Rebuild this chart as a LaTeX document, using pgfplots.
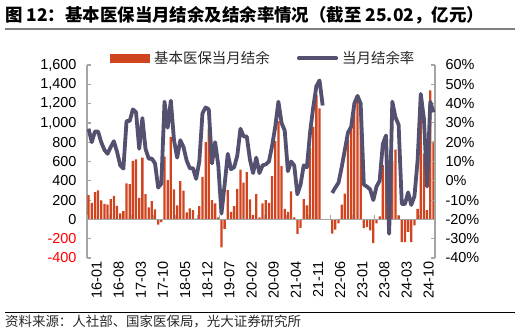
\documentclass[border=0pt]{standalone}
\usepackage{pgfplots}
\pgfplotsset{compat=1.18}
\usepackage{pgfplotstable}
\usepackage{fontspec}
\setmainfont{Liberation Sans}
\newfontfamily\cjk{Noto Sans CJK SC}
\definecolor{barred}{RGB}{208,68,32}
\definecolor{lineblue}{RGB}{83,80,112}
\definecolor{axgray}{RGB}{165,165,165}
\definecolor{txt}{RGB}{40,40,40}

\pgfplotstableread{
idx bal rate
0 252 27
1 172 20
2 283 25.5
3 300 25.5
4 197 20
5 162 16
6 152 14
7 210 17.5
8 245 20.5
9 141 15
10 62 8
11 86 6.3
12 373 31
13 366 31
14 607 37
15 621 35.5
16 224 16.6
17 641 32.5
18 262 16.5
19 124 11.5
20 190 11.5
21 103 9
22 -55 -3.5
23 -28 -1.5
24 650 41
25 407 27.5
26 856 41.5
27 310 21
28 145 12
29 397 21
30 297 17.5
31 72 10.5
32 114 6.5
33 97 6.5
34 7 1
35 138 10
36 440 35
37 800 38
38 940 37
39 200 9
40 166 20
41 20 8
42 -290 -17
43 -97 -2
44 304 14
45 79 6
46 138 7
47 317 13
48 517 27
49 380 23
50 490 23
51 207 11
52 48 4
53 262 12
54 20 4
55 166 8
56 200 8.5
57 172 10
58 448 18
59 810 28
60 1018 41
61 552 30
62 110 26
63 79 5
64 290 10
65 20 8
66 -150 -7
67 -88 -2
68 210 8
69 145 7
70 742 25
71 960 38
72 1290 49
73 1150 52
74 nan 39
75 nan nan
76 nan nan
77 -148 -6.3
78 -105 -3.5
79 -42 -1
80 152 7
81 266 16
82 826 25
83 984 28
84 1199 40
85 1226 44
86 1137 40
87 -90 -2
88 -80 -3
89 -114 -4.5
90 -245 -10
91 -40 -3
92 31 0
93 563 19
94 743 23.5
95 -140 -27.5
96 604 41
97 722 33
98 41 29
99 -235 -12
100 -235 -12
101 -130 -6
102 -235 -12.5
103 -62 -8
104 110 10.6
105 1270 45
106 681 32
107 97 -3
108 1337 41
109 808 35.5
}\datatable

\begin{document}
\begin{tikzpicture}[x=1bp,y=1bp]
\path[use as bounding box] (0,0) rectangle (521,333);
% title
\node[anchor=west, inner sep=0] at (5,317.5) {\cjk\bfseries\fontsize{17.5}{20}\selectfont 图 12：基本医保当月结余及结余率情况（截至 25.02，亿元）};
\draw[gray, line width=1.3] (5,304) -- (515,304);
% legend
\fill[barred] (110,270.3) rectangle (150,279);
\node[anchor=west, inner sep=0, text=txt] at (154,274.6) {\cjk\fontsize{14.5}{16}\selectfont 基本医保当月结余};
\draw[lineblue, line width=4.2, line cap=round] (299,274.7) -- (336,274.7);
\node[anchor=west, inner sep=0, text=txt] at (342,274.6) {\cjk\fontsize{14.5}{16}\selectfont 当月结余率};
% source
\draw[black, line width=1] (5,20.7) -- (515,20.7);
\node[anchor=west, inner sep=0, text=txt] at (5,11.3) {\cjk\fontsize{13.5}{15}\selectfont 资料来源：人社部、国家医保局，光大证券研究所};

\begin{axis}[
  at={(87bp,75bp)}, anchor=south west,
  scale only axis, width=348bp, height=193bp,
  xmin=-0.5, xmax=109.5, ymin=-400, ymax=1600,
  axis y line*=left, axis x line*=bottom,
  x axis line style={draw=none},
  xtick={0,7,...,105},
  xticklabels={16-01,16-08,17-03,17-10,18-05,18-12,19-07,20-02,20-09,21-04,21-11,22-06,23-01,23-08,24-03,24-10},
  xtick style={draw=none},
  xticklabel style={rotate=90, anchor=east, font=\fontsize{14.5}{16}\selectfont, yshift=-8bp},
  ytick={-400,-200,...,1600},
  yticklabels={{\color{red}-400},{\color{red}-200},0,200,400,600,800,{1,000},{1,200},{1,400},{1,600}},
  ytick align=inside, major tick length=4bp,
  y axis line style={axgray, line width=1.2bp},
  ytick style={axgray, line width=1.2bp},
  yticklabel style={font=\fontsize{14.5}{16}\selectfont, xshift=-7bp},
  clip=false,
]
\addplot[ybar, bar width=0.72, fill=barred, draw=none] table[x=idx, y=bal] {\datatable};
\draw[axgray, line width=1.2bp] (axis cs:-0.5,0) -- (axis cs:109.5,0);
\pgfplotsinvokeforeach{-0.5,6.5,13.5,20.5,27.5,34.5,41.5,48.5,55.5,62.5,69.5,76.5,83.5,90.5,97.5,104.5}{
  \draw[axgray, line width=1bp] (axis cs:#1,0) -- ([yshift=4bp]axis cs:#1,0);
}
\end{axis}

\begin{axis}[
  at={(87bp,75bp)}, anchor=south west,
  scale only axis, width=348bp, height=193bp,
  xmin=-0.5, xmax=109.5, ymin=-40, ymax=60,
  axis y line*=right, axis x line=none,
  ytick={-40,-30,...,60},
  yticklabels={-40\%,-30\%,-20\%,-10\%,0\%,10\%,20\%,30\%,40\%,50\%,60\%},
  ytick align=inside, major tick length=4bp,
  y axis line style={axgray, line width=1.2bp},
  ytick style={axgray, line width=1.2bp},
  yticklabel style={font=\fontsize{14.5}{16}\selectfont, xshift=7bp},
  unbounded coords=jump,
]
\addplot[lineblue, line width=3.8bp, line join=round, no markers] table[x=idx, y=rate] {\datatable};
\end{axis}
\end{tikzpicture}
\end{document}
